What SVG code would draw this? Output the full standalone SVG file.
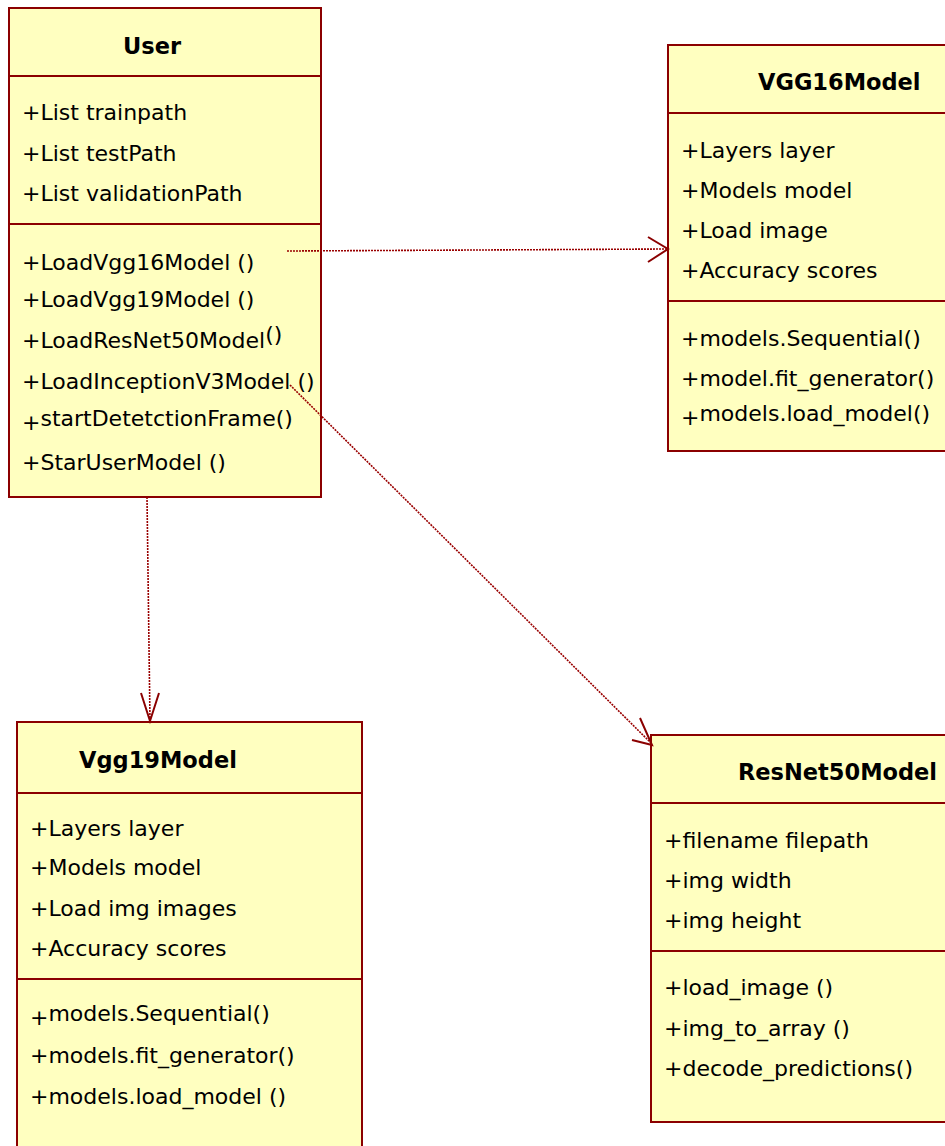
<svg xmlns="http://www.w3.org/2000/svg" width="945" height="1146" viewBox="0 0 945 1146">
<style>
.box{fill:#FFFFC0;stroke:#8B0000;stroke-width:2}
.sep{stroke:#8B0000;stroke-width:2}
.t{font-family:"DejaVu Sans",Verdana,sans-serif;font-size:22px;fill:#000}
.h{font-family:"DejaVu Sans",Verdana,sans-serif;font-size:22.5px;font-weight:bold;fill:#000}
.dep{stroke:#990000;stroke-width:1.6;stroke-dasharray:2 1;fill:none}
.head{stroke:#8B0000;stroke-width:2;fill:none}
</style>
<rect width="945" height="1146" fill="#fff"/>
<g id="User">
<rect class="box" x="9" y="8" width="312" height="489"/>
<line class="sep" x1="9" y1="76" x2="321" y2="76"/>
<line class="sep" x1="9" y1="224" x2="321" y2="224"/>
<text class="h" x="123" y="54">User</text>
<text class="t" x="22" y="120">+List trainpath</text>
<text class="t" x="22" y="161">+List testPath</text>
<text class="t" x="22" y="201">+List validationPath</text>
<text class="t" x="22" y="270">+LoadVgg16Model ()</text>
<text class="t" x="22" y="307">+LoadVgg19Model ()</text>
<text class="t" x="22" y="348">+LoadResNet50Model<tspan dy="-6">()</tspan></text>
<text class="t" x="22" y="389">+LoadInceptionV3Model ()</text>
<text class="t" x="22" y="426"><tspan dy="4">+</tspan><tspan dy="-4">startDetetctionFrame()</tspan></text>
<text class="t" x="22" y="470">+StarUserModel ()</text>
</g>
<g id="VGG16Model">
<rect class="box" x="668" y="45" width="290" height="406"/>
<line class="sep" x1="668" y1="113" x2="945" y2="113"/>
<line class="sep" x1="668" y1="301" x2="945" y2="301"/>
<text class="h" x="758" y="90">VGG16Model</text>
<text class="t" x="681" y="158">+Layers layer</text>
<text class="t" x="681" y="198">+Models model</text>
<text class="t" x="681" y="238">+Load image</text>
<text class="t" x="681" y="278">+Accuracy scores</text>
<text class="t" x="681" y="346">+models.Sequential()</text>
<text class="t" x="681" y="386">+model.fit_generator()</text>
<text class="t" x="681" y="421"><tspan dy="4">+</tspan><tspan dy="-4">models.load_model()</tspan></text>
</g>
<g id="Vgg19Model">
<rect class="box" x="17" y="722" width="345" height="440"/>
<line class="sep" x1="17" y1="793" x2="362" y2="793"/>
<line class="sep" x1="17" y1="979" x2="362" y2="979"/>
<text class="h" x="79" y="768">Vgg19Model</text>
<text class="t" x="30" y="836">+Layers layer</text>
<text class="t" x="30" y="875">+Models model</text>
<text class="t" x="30" y="916">+Load img images</text>
<text class="t" x="30" y="956">+Accuracy scores</text>
<text class="t" x="30" y="1021"><tspan dy="4">+</tspan><tspan dy="-4">models.Sequential()</tspan></text>
<text class="t" x="30" y="1063">+models.fit_generator()</text>
<text class="t" x="30" y="1104">+models.load_model ()</text>
</g>
<g id="ResNet50Model">
<rect class="box" x="651" y="735" width="307" height="387"/>
<line class="sep" x1="651" y1="803" x2="945" y2="803"/>
<line class="sep" x1="651" y1="951" x2="945" y2="951"/>
<text class="h" x="738" y="780">ResNet50Model</text>
<text class="t" x="664" y="848">+filename filepath</text>
<text class="t" x="664" y="888">+img width</text>
<text class="t" x="664" y="928">+img height</text>
<text class="t" x="664" y="995">+load_image ()</text>
<text class="t" x="664" y="1036">+img_to_array ()</text>
<text class="t" x="664" y="1076">+decode_predictions()</text>
</g>
<g id="connectors">
<line class="dep" x1="287" y1="251" x2="668" y2="249"/>
<polyline class="head" points="648,237 668,249 648,262"/>
<line class="dep" x1="147" y1="497" x2="150" y2="721"/>
<polyline class="head" points="141,693 150,721 159,693"/>
<line class="dep" x1="290" y1="385" x2="652" y2="744"/>
<polyline class="head" points="640,718 652,745 632,740"/>
</g>
</svg>
